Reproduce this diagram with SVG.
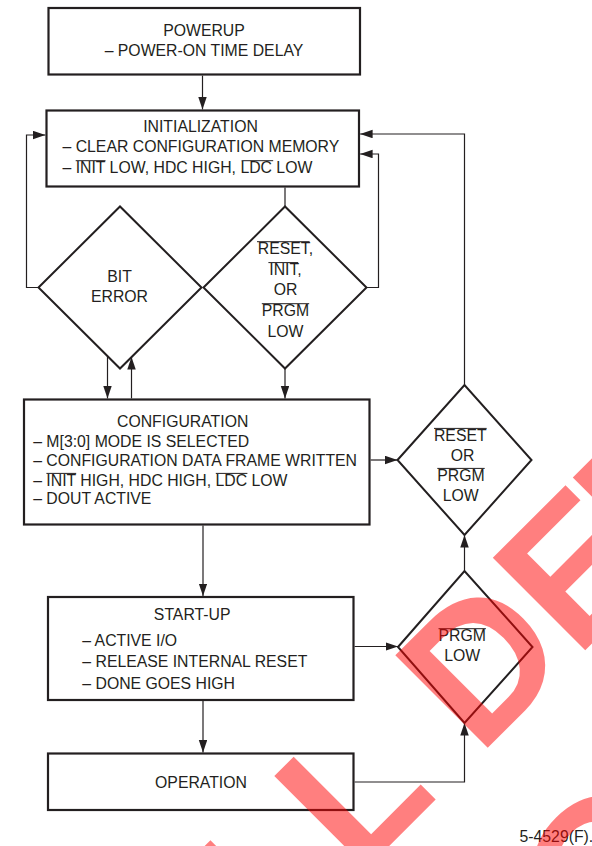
<svg xmlns="http://www.w3.org/2000/svg" width="592" height="846" viewBox="0 0 592 846">
<style>
.box{fill:none;stroke:#231f20;stroke-width:2.2}
.dia{fill:none;stroke:#231f20;stroke-width:2}
.con{fill:none;stroke:#231f20;stroke-width:1.2}
.ovl{stroke:#231f20;stroke-width:1}
text{font-family:"Liberation Sans",Arial,Helvetica,sans-serif;font-size:15.8px;fill:#231f20}
.c{text-anchor:middle}
.wm{font-family:"Liberation Sans",Arial,sans-serif;font-weight:bold;font-size:190px;fill:#ff0000;fill-opacity:0.5}
</style>
<defs>
<marker id="ah" markerUnits="userSpaceOnUse" markerWidth="13" markerHeight="9" refX="12.5" refY="4.25" orient="auto">
<path d="M0,0 L12.5,4.25 L0,8.5 z" fill="#231f20"/>
</marker>
</defs>
<rect width="592" height="846" fill="#ffffff"/>

<g id="powerup">
<rect class="box" x="48.5" y="8" width="311.5" height="66.5"/>
<text class="c" x="204" y="36">POWERUP</text>
<text class="c" x="204" y="56">– POWER-ON TIME DELAY</text>
</g>

<g id="initialization">
<rect class="box" x="46.5" y="110.5" width="312.5" height="76"/>
<text class="c" x="200.5" y="131.5">INITIALIZATION</text>
<text x="62.5" y="151.5">– CLEAR CONFIGURATION MEMORY</text>
<text x="62.5" y="173">– INIT LOW, HDC HIGH, LDC LOW</text>
<line class="ovl" x1="75.7" y1="160.7" x2="105.5" y2="160.7"/>
<line class="ovl" x1="241.6" y1="160.7" x2="273.2" y2="160.7"/>
</g>

<g id="bit-error">
<polygon class="dia" points="38.5,287.5 120,206.5 201.5,287.5 120,368.5"/>
<text class="c" x="119.5" y="281.5">BIT</text>
<text class="c" x="119.5" y="301.5">ERROR</text>
</g>

<g id="reset-init-prgm">
<polygon class="dia" points="203.5,287.5 285,206.5 366.5,287.5 285,368.5"/>
<text class="c" x="285.5" y="254">RESET,</text>
<text class="c" x="285.5" y="275">INIT,</text>
<text class="c" x="285.5" y="295.3">OR</text>
<text class="c" x="285.5" y="316">PRGM</text>
<text class="c" x="285.5" y="336.5">LOW</text>
<line class="ovl" x1="257" y1="241.7" x2="309.6" y2="241.7"/>
<line class="ovl" x1="268.4" y1="262.6" x2="298.2" y2="262.6"/>
<line class="ovl" x1="261.8" y1="303.7" x2="309.2" y2="303.7"/>
</g>

<g id="configuration">
<rect class="box" x="24" y="399.5" width="345.5" height="125"/>
<text class="c" x="182.7" y="426.7">CONFIGURATION</text>
<text x="33.2" y="446.7">– M[3:0] MODE IS SELECTED</text>
<text x="33.2" y="466">– CONFIGURATION DATA FRAME WRITTEN</text>
<text x="33.2" y="485.7">– INIT HIGH, HDC HIGH, LDC LOW</text>
<text x="33.2" y="504.3">– DOUT ACTIVE</text>
<line class="ovl" x1="46.4" y1="473.4" x2="76.2" y2="473.4"/>
<line class="ovl" x1="215.8" y1="473.4" x2="247.4" y2="473.4"/>
</g>

<g id="reset-or-prgm">
<polygon class="dia" points="397.5,460 464.5,385 531.5,460 464.5,535"/>
<text class="c" x="460.3" y="440.7">RESET</text>
<text class="c" x="462.5" y="460.7">OR</text>
<text class="c" x="461" y="480.7">PRGM</text>
<text class="c" x="460.7" y="500.7">LOW</text>
<line class="ovl" x1="434" y1="428.4" x2="486.7" y2="428.4"/>
<line class="ovl" x1="437.3" y1="468.4" x2="484.7" y2="468.4"/>
</g>

<g id="start-up">
<rect class="box" x="48" y="597" width="305.5" height="103"/>
<text class="c" x="192.2" y="620">START-UP</text>
<text x="82.3" y="646">– ACTIVE I/O</text>
<text x="82.3" y="667.3">– RELEASE INTERNAL RESET</text>
<text x="82.3" y="689">– DONE GOES HIGH</text>
</g>

<g id="prgm-low">
<polygon class="dia" points="398,647 464.5,571 532.5,647 464.5,723"/>
<text class="c" x="462.2" y="641">PRGM</text>
<text class="c" x="462.3" y="660.7">LOW</text>
<line class="ovl" x1="438.5" y1="628.7" x2="485.9" y2="628.7"/>
</g>

<g id="operation">
<rect class="box" x="48" y="753.5" width="305.5" height="56.5"/>
<text class="c" x="201" y="788.3">OPERATION</text>
</g>

<g id="connectors">
<line class="con" x1="202.5" y1="75.6" x2="202.5" y2="109.4" marker-end="url(#ah)"/>
<line class="con" x1="285" y1="187.6" x2="285" y2="206.5"/>
<polyline class="con" points="38.5,287.5 26.5,287.5 26.5,135 45.4,135" marker-end="url(#ah)"/>
<polyline class="con" points="366.5,287.5 378.5,287.5 378.5,154 360.1,154" marker-end="url(#ah)"/>
<line class="con" x1="107.5" y1="356.5" x2="107.5" y2="398.4" marker-end="url(#ah)"/>
<line class="con" x1="131.5" y1="398.4" x2="131.5" y2="357" marker-end="url(#ah)"/>
<line class="con" x1="285" y1="368.5" x2="285" y2="398.4" marker-end="url(#ah)"/>
<line class="con" x1="370.6" y1="460" x2="397.5" y2="460" marker-end="url(#ah)"/>
<polyline class="con" points="464.5,385 464.5,134 360.1,134" marker-end="url(#ah)"/>
<line class="con" x1="203" y1="525.6" x2="203" y2="596" marker-end="url(#ah)"/>
<line class="con" x1="354.6" y1="646.5" x2="398" y2="646.5" marker-end="url(#ah)"/>
<line class="con" x1="464.5" y1="571" x2="464.5" y2="535" marker-end="url(#ah)"/>
<line class="con" x1="203" y1="701.1" x2="203" y2="752.4" marker-end="url(#ah)"/>
<polyline class="con" points="354.6,782 464.5,782 464.5,723" marker-end="url(#ah)"/>
</g>

<text x="519.5" y="841.7">5-4529(F).</text>

<g id="watermark" transform="rotate(-45)">
<text class="wm" x="-485.4 -367.5 -251.5 -196.6 -58.7 54.7" y="873.5">LL DEP</text>
<text class="wm" x="-259" y="1104">O</text>
</g>
</svg>
